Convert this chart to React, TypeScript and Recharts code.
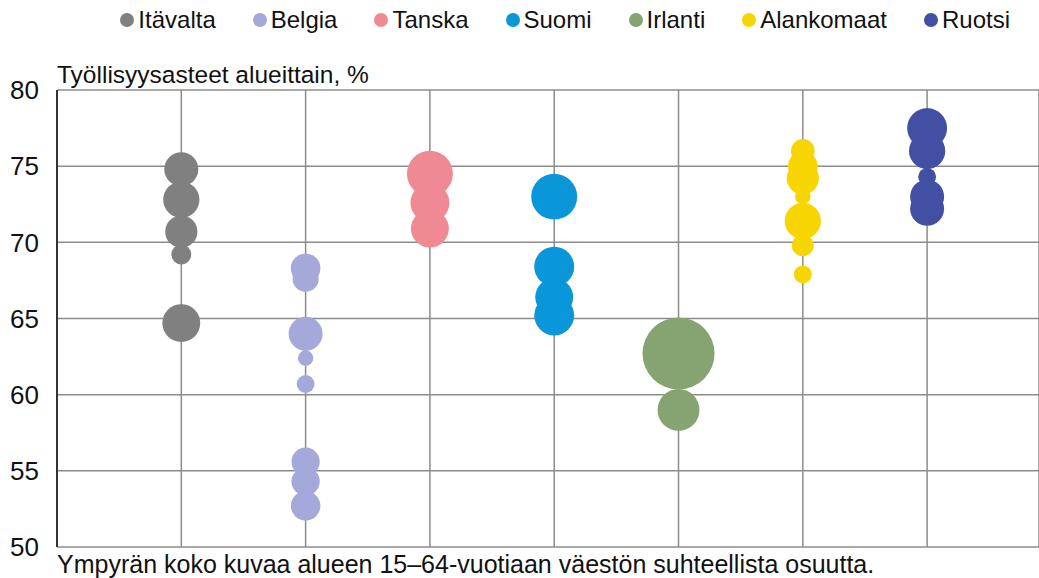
import React from 'react';
import {
  CartesianGrid,
  Scatter,
  ScatterChart,
  XAxis,
  YAxis,
  ZAxis,
} from 'recharts';

// Countries, in column order
const countries = ['Itävalta', 'Belgia', 'Tanska', 'Suomi', 'Irlanti', 'Alankomaat', 'Ruotsi'];
const colors = ['#808080', '#a4a9d9', '#ef8a92', '#0a97d9', '#86a372', '#f7d500', '#4150a2'];

// Employment rates by region, %
const itavaltaRates = [74.8, 72.8, 70.7, 69.2, 64.7];
const belgiaRates = [68.3, 67.6, 64.0, 62.4, 60.7, 55.6, 54.3, 52.7];
const tanskaRates = [74.5, 72.6, 70.9];
const suomiRates = [73.0, 68.4, 66.4, 65.2];
const irlantiRates = [62.7, 59.0];
const alankomaatRates = [76.0, 75.0, 74.2, 73.0, 71.4, 69.8, 67.9];
const ruotsiRates = [77.5, 76.0, 74.3, 73.0, 72.2];

// Relative share of the 15-64 population (circle area)
const itavaltaShares = [2.9, 3.3, 2.6, 1.0, 3.6];
const belgiaShares = [2.2, 1.7, 2.9, 0.6, 0.8, 2.0, 2.0, 2.2];
const tanskaShares = [5.3, 3.8, 3.6];
const suomiShares = [5.3, 4.0, 3.6, 4.0];
const irlantiShares = [13.0, 4.4];
const alankomaatShares = [1.4, 2.2, 2.6, 0.6, 3.3, 1.2, 0.8];
const ruotsiShares = [4.0, 3.3, 0.8, 2.9, 2.9];

const rates = [itavaltaRates, belgiaRates, tanskaRates, suomiRates, irlantiRates, alankomaatRates, ruotsiRates];
const shares = [itavaltaShares, belgiaShares, tanskaShares, suomiShares, irlantiShares, alankomaatShares, ruotsiShares];

const yTicks = [50, 55, 60, 65, 70, 75, 80];
const xTicks = [1, 2, 3, 4, 5, 6, 7];

const FONT = '"Liberation Sans", Arial, sans-serif';

const series = countries.map((name, i) => ({
  name,
  color: colors[i],
  data: rates[i].map((y, j) => ({ x: i + 1, y, z: shares[i][j] })),
}));

const LegendRow = () => (
  <div
    style={{
      position: 'absolute',
      left: 0,
      top: 6,
      width: 1039,
      display: 'flex',
      justifyContent: 'flex-end',
      boxSizing: 'border-box',
      paddingRight: 29,
      fontFamily: FONT,
      fontSize: 24,
      lineHeight: '28px',
      color: '#111',
    }}
  >
    {series.map((s) => (
      <div key={s.name} style={{ display: 'flex', alignItems: 'center', marginLeft: 37 }}>
        <span
          style={{
            display: 'inline-block',
            width: 14,
            height: 14,
            borderRadius: '50%',
            background: s.color,
            marginRight: 4,
          }}
        />
        <span>{s.name}</span>
      </div>
    ))}
  </div>
);

export default function App() {
  return (
    <div style={{ position: 'absolute', left: 0, top: 0, width: 1039, height: 578, background: '#fff' }}>
      <ScatterChart width={1039} height={578} margin={{ top: 90, right: 0, bottom: 31, left: 0 }}>
        <CartesianGrid stroke="#8c8c8c" strokeWidth={1.5} />
        <XAxis
          type="number"
          dataKey="x"
          domain={[0, 7.9]}
          ticks={xTicks}
          tick={() => <g />}
          tickLine={false}
          height={0}
          interval={0}
          axisLine={{ stroke: '#333', strokeWidth: 2 }}
        />
        <YAxis
          type="number"
          dataKey="y"
          domain={[50, 80]}
          ticks={yTicks}
          width={57}
          tickLine={false}
          tickSize={0}
          tickMargin={18}
          axisLine={{ stroke: '#333', strokeWidth: 2 }}
          tick={{ fontFamily: FONT, fontSize: 26, fill: '#111' }}
          interval={0}
          allowDataOverflow
        />
        <ZAxis type="number" dataKey="z" domain={[0, 13]} range={[0, Math.PI * 36 * 36]} />
        {series.map((s) => (
          <Scatter
            key={s.name}
            name={s.name}
            data={s.data}
            fill={s.color}
            isAnimationActive={false}
          />
        ))}
      </ScatterChart>
      <LegendRow />
      <div
        style={{
          position: 'absolute',
          left: 57,
          top: 61,
          fontFamily: FONT,
          fontSize: 24.5,
          lineHeight: '28px',
          color: '#111',
          whiteSpace: 'nowrap',
        }}
      >
        Työllisyysasteet alueittain, %
      </div>
      <div
        style={{
          position: 'absolute',
          left: 57,
          top: 550,
          fontFamily: FONT,
          fontSize: 25,
          lineHeight: '28px',
          color: '#111',
          whiteSpace: 'nowrap',
        }}
      >
        Ympyrän koko kuvaa alueen 15–64-vuotiaan väestön suhteellista osuutta.
      </div>
    </div>
  );
}
